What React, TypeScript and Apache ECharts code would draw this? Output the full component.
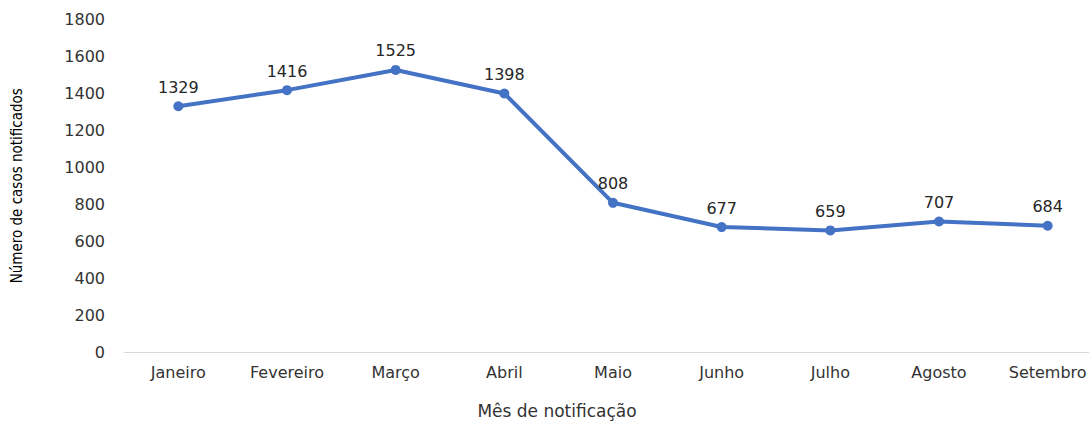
import React, { useEffect, useRef } from "react";
import * as echarts from "echarts";

const months = ["Janeiro", "Fevereiro", "Março", "Abril", "Maio", "Junho", "Julho", "Agosto", "Setembro"];
const cases = [1329, 1416, 1525, 1398, 808, 677, 659, 707, 684];
const yTicks = { min: 0, max: 1800, interval: 200 };
const xTitle = "Mês de notificação";
const yTitle = "Número de casos notificados";

const font = "'DejaVu Sans', 'Open Sans', sans-serif";

export default function App() {
  const ref = useRef<HTMLDivElement>(null);
  useEffect(() => {
    if (!ref.current) return;
    const chart = echarts.init(ref.current, undefined, { renderer: "svg" });
    chart.setOption({
      animation: false,
      grid: { left: 124, width: 978, top: 19, height: 333.5, outerBoundsMode: "none", containLabel: false },
      graphic: [
        {
          type: "text",
          x: 557,
          y: 411,
          style: {
            text: xTitle,
            fontFamily: font,
            fontSize: 17,
            fill: "#333",
            textAlign: "center",
            textVerticalAlign: "middle",
          },
        },
      ],
      xAxis: {
        type: "category",
        data: months,
        axisLine: { lineStyle: { color: "#d9d9d9", width: 1 } },
        axisTick: { show: false },
        axisLabel: { fontFamily: font, fontSize: 16, color: "#333", margin: 12 },
      },
      yAxis: {
        type: "value",
        min: yTicks.min,
        max: yTicks.max,
        interval: yTicks.interval,
        name: yTitle,
        nameLocation: "middle",
        nameGap: 100,
        nameTextStyle: {
          fontFamily: "'Liberation Sans Narrow', 'DejaVu Sans Condensed', 'Liberation Sans', sans-serif",
          fontSize: 15,
          color: "#000",
        },
        splitLine: { show: false },
        axisLine: { show: false },
        axisTick: { show: false },
        axisLabel: {
          fontFamily: font,
          fontSize: 16,
          color: "#333",
          margin: 19,
          formatter: (v: number) => String(v),
        },
      },
      series: [
        {
          type: "line",
          data: cases,
          symbol: "circle",
          symbolSize: 10,
          lineStyle: { color: "#4472C4", width: 4 },
          itemStyle: { color: "#4472C4" },
          label: {
            show: true,
            position: "top",
            distance: 6,
            fontFamily: font,
            fontSize: 16,
            color: "#262626",
          },
        },
      ],
    });
    return () => chart.dispose();
  }, []);
  return <div ref={ref} style={{ width: 1089, height: 421, position: "absolute", left: 0, top: 0, overflow: "hidden" }} />;
}
